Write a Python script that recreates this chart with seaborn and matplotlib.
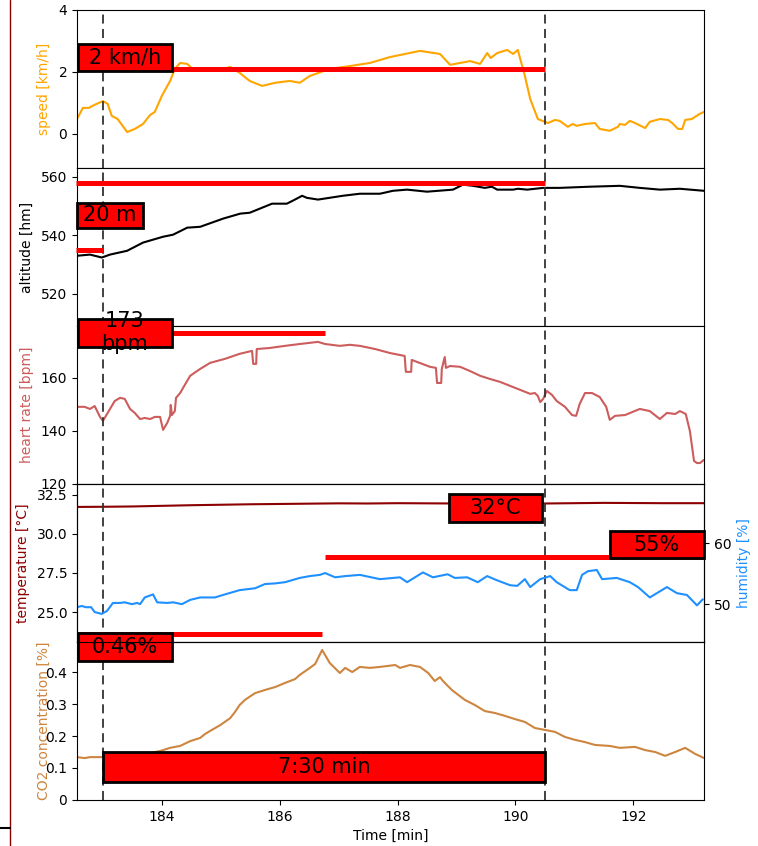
import matplotlib
matplotlib.use("Agg")
import seaborn as sns
import matplotlib.pyplot as plt
from matplotlib.patches import Rectangle
from matplotlib.lines import Line2D

# speed [km/h]
t_speed = [182.56, 182.66, 182.76, 182.86, 183.0, 183.08, 183.15, 183.25, 183.41, 183.54,
           183.68, 183.8, 183.88, 184.0, 184.14, 184.22, 184.31, 184.43, 184.56, 184.73,
           184.9, 185.16, 185.32, 185.49, 185.7, 185.92, 186.17, 186.34, 186.51, 186.85,
           187.19, 187.53, 187.87, 188.38, 188.72, 188.89, 189.23, 189.4, 189.52, 189.58,
           189.69, 189.86, 189.96, 190.04, 190.16, 190.25, 190.38, 190.5, 190.55, 190.67,
           190.75, 190.89, 190.97, 191.04, 191.18, 191.35, 191.43, 191.6, 191.74, 191.77,
           191.86, 191.94, 192.03, 192.2, 192.28, 192.45, 192.59, 192.66, 192.76, 192.83,
           192.88, 192.99, 193.13, 193.2]
speed = [0.48, 0.84, 0.84, 0.94, 1.06, 0.97, 0.58, 0.48, 0.06, 0.16,
         0.32, 0.61, 0.71, 1.23, 1.71, 2.1, 2.29, 2.26, 2.03, 2.1,
         2.03, 2.16, 1.97, 1.71, 1.55, 1.65, 1.71, 1.65, 1.87, 2.1,
         2.19, 2.29, 2.48, 2.68, 2.58, 2.23, 2.35, 2.26, 2.61, 2.45,
         2.61, 2.71, 2.58, 2.71, 1.87, 1.13, 0.48, 0.39, 0.35, 0.45,
         0.42, 0.23, 0.32, 0.26, 0.32, 0.35, 0.16, 0.1, 0.23, 0.32,
         0.29, 0.42, 0.35, 0.19, 0.39, 0.48, 0.45, 0.35, 0.16, 0.16,
         0.45, 0.48, 0.65, 0.71]

# altitude [hm]
t_alt = [182.56, 182.78, 182.98, 183.12, 183.41, 183.68, 184.02, 184.19, 184.43, 184.65,
         185.04, 185.33, 185.49, 185.87, 186.12, 186.22, 186.38, 186.46, 186.65, 187.07,
         187.36, 187.7, 187.92, 188.16, 188.5, 188.94, 189.11, 189.28, 189.48, 189.6,
         189.69, 189.96, 190.04, 190.2, 190.47, 190.75, 191.26, 191.77, 192.11, 192.45,
         192.79, 193.2]
altitude = [533.0, 533.4, 532.4, 533.4, 534.7, 537.5, 539.5, 540.2, 542.6, 542.9,
            545.7, 547.4, 547.7, 550.8, 550.8, 551.8, 553.5, 552.8, 552.2, 553.5,
            554.2, 554.2, 555.2, 555.6, 554.9, 555.6, 557.3, 556.9, 556.2, 556.6,
            555.6, 555.6, 555.9, 555.6, 556.2, 556.2, 556.6, 556.9, 556.2, 555.6,
            555.9, 555.2]

# heart rate [bpm]
t_hr = [182.56, 182.69, 182.78, 182.86, 182.95, 183.0, 183.08, 183.2, 183.29, 183.37,
        183.46, 183.54, 183.63, 183.71, 183.8, 183.88, 183.97, 184.02, 184.09, 184.14,
        184.15, 184.17, 184.22, 184.24, 184.31, 184.39, 184.48, 184.65, 184.82, 185.07,
        185.32, 185.53, 185.55, 185.6, 185.61, 185.83, 186.09, 186.34, 186.65, 186.77,
        187.02, 187.19, 187.36, 187.62, 187.87, 188.12, 188.14, 188.23, 188.24, 188.55,
        188.65, 188.67, 188.74, 188.75, 188.8, 188.82, 188.89, 189.06, 189.23, 189.4,
        189.57, 189.74, 189.91, 190.08, 190.25, 190.33, 190.38, 190.42, 190.47, 190.53,
        190.62, 190.7, 190.84, 190.96, 191.03, 191.09, 191.18, 191.3, 191.43, 191.54,
        191.6, 191.69, 191.86, 192.11, 192.28, 192.45, 192.57, 192.71, 192.79, 192.89,
        192.96, 193.03, 193.08, 193.13, 193.2]
heart_rate = [149.1, 149.1, 148.3, 149.4, 145.3, 143.8, 146.8, 151.3, 152.5, 152.1,
              148.3, 146.8, 144.5, 144.9, 144.5, 145.3, 145.3, 140.4, 143.0, 145.7,
              149.8, 146.0, 147.5, 152.5, 154.3, 157.4, 160.8, 163.4, 165.7, 167.2,
              169.1, 170.2, 165.3, 165.3, 170.9, 171.3, 172.1, 172.8, 173.6, 172.8,
              172.1, 172.5, 172.1, 170.9, 169.4, 168.3, 162.3, 162.3, 166.8, 164.2,
              163.8, 158.1, 158.1, 163.4, 167.9, 163.8, 164.5, 164.2, 162.6, 160.8,
              159.6, 158.5, 157.0, 155.5, 154.0, 154.3, 153.2, 150.9, 152.1, 155.1,
              153.6, 151.3, 149.1, 146.0, 145.7, 150.2, 154.3, 154.3, 152.8, 149.1,
              144.2, 145.7, 146.0, 148.3, 147.5, 144.5, 146.8, 146.4, 147.5, 146.4,
              140.0, 128.7, 127.9, 127.9, 129.1]

# temperature [°C]
t_temp = [182.56, 183.0, 183.5, 184.0, 184.5, 185.0, 185.5, 186.0, 186.5, 187.0, 187.5,
          188.0, 188.5, 189.0, 189.5, 190.0, 190.5, 191.0, 191.5, 192.0, 192.5, 193.2]
temperature = [31.73, 31.74, 31.76, 31.8, 31.84, 31.87, 31.9, 31.92, 31.94, 31.96, 31.95,
               31.97, 31.96, 31.95, 31.97, 31.96, 31.95, 31.97, 31.99, 31.98, 31.97, 31.97]

# humidity [%]
t_hum = [182.56, 182.64, 182.71, 182.8, 182.86, 182.98, 183.07, 183.17, 183.29, 183.37,
         183.49, 183.58, 183.63, 183.71, 183.85, 183.92, 184.09, 184.19, 184.34, 184.48,
         184.65, 184.9, 185.07, 185.32, 185.58, 185.75, 185.92, 186.09, 186.34, 186.51,
         186.68, 186.77, 186.94, 187.11, 187.36, 187.7,
         188.04, 188.16, 188.43, 188.6, 188.85, 188.97, 189.18, 189.36, 189.52, 189.69,
         189.91, 190.03, 190.16, 190.25, 190.42, 190.59, 190.7, 190.92, 191.04, 191.13,
         191.23, 191.38, 191.47, 191.72, 191.94, 192.08, 192.28, 192.57, 192.74, 192.91,
         193.08, 193.18]
humidity = [49.5, 49.7, 49.5, 49.5, 48.7, 48.4, 48.9, 50.2, 50.2, 50.3,
            50.0, 50.2, 50.0, 51.1, 51.6, 50.3, 50.2, 50.3, 50.0, 50.7,
            51.1, 51.1, 51.6, 52.3, 52.6, 53.3, 53.4, 53.6, 54.3, 54.6,
            54.8, 55.1, 54.4, 54.6, 54.8, 54.1,
            54.4, 53.6, 55.2, 54.4, 54.9, 54.3, 54.4, 53.6, 54.6, 53.9,
            53.1, 53.0, 54.1, 52.8, 54.1, 54.6, 53.6, 52.3, 52.3, 54.8,
            55.4, 55.6, 54.1, 54.3, 53.6, 52.8, 51.1, 52.8, 51.8, 51.5,
            49.8, 50.8]

# CO2 concentration [%]
t_co2 = [182.56, 182.69, 182.78, 182.95, 183.29, 183.63, 183.97, 184.14, 184.31, 184.48,
         184.65, 184.73, 184.82, 184.99, 185.16, 185.24, 185.32, 185.41, 185.58, 185.75,
         185.92, 186.09, 186.26, 186.34, 186.48, 186.6, 186.72, 186.85, 187.02, 187.11,
         187.23, 187.36, 187.53, 187.7, 187.96, 188.04, 188.21, 188.38, 188.52, 188.63,
         188.72, 188.77, 188.92, 189.14, 189.31, 189.48, 189.65, 189.82, 189.99, 190.16,
         190.33, 190.5, 190.67, 190.84, 191.01, 191.18, 191.35, 191.6, 191.77, 192.03,
         192.2, 192.37, 192.54, 192.71, 192.88, 193.05, 193.2]
co2 = [0.134, 0.131, 0.134, 0.134, 0.134, 0.141, 0.153, 0.163, 0.169, 0.184,
       0.194, 0.206, 0.216, 0.234, 0.256, 0.275, 0.297, 0.313, 0.334, 0.344,
       0.353, 0.366, 0.378, 0.391, 0.409, 0.425, 0.469, 0.428, 0.397, 0.413,
       0.4, 0.416, 0.413, 0.416, 0.422, 0.413, 0.422, 0.416, 0.397, 0.372,
       0.384, 0.372, 0.344, 0.313, 0.297, 0.278, 0.272, 0.263, 0.253, 0.244,
       0.225, 0.219, 0.213, 0.197, 0.188, 0.181, 0.172, 0.169, 0.163, 0.166,
       0.156, 0.15, 0.138, 0.15, 0.163, 0.144, 0.131]

t_start, t_end = 183.0, 190.5

sns.set_style("ticks", {"axes.edgecolor": "black", "xtick.color": "black",
                        "ytick.color": "black", "text.color": "black",
                        "axes.labelcolor": "black"})

fig, axs = plt.subplots(5, 1, sharex=True, figsize=(7.58, 8.46), dpi=100)
fig.subplots_adjust(left=0.1016, right=0.9288, top=0.9882, bottom=0.0544, hspace=0)
ax1, ax2, ax3, ax4, ax5 = axs


def box(ax, x0, x1, y0, y1, txt):
    ax.add_patch(Rectangle((x0, y0), x1 - x0, y1 - y0, facecolor="red",
                           edgecolor="black", lw=2, clip_on=False, zorder=6))
    ax.text((x0 + x1) / 2, (y0 + y1) / 2, txt, ha="center", va="center",
            fontsize=15, zorder=7, clip_on=False)


def redline(ax, x0, x1, y):
    ax.plot([x0, x1], [y, y], color="red", lw=3.6, solid_capstyle="butt",
            clip_on=False, zorder=5)


# speed
sns.lineplot(x=t_speed, y=speed, ax=ax1, color="orange", lw=1.5, estimator=None, sort=False)
ax1.set_ylim(-1.1, 4)
ax1.set_yticks([0, 2, 4])
ax1.set_ylabel("speed [km/h]", color="orange")
ax1.yaxis.set_label_coords(-0.041, 0.5)
redline(ax1, 182.56, t_end, 2.08)
box(ax1, 182.57, 184.17, 2.03, 2.9, "2 km/h")

# altitude
sns.lineplot(x=t_alt, y=altitude, ax=ax2, color="black", lw=1.5, estimator=None, sort=False)
ax2.set_ylim(509, 563)
ax2.set_yticks([520, 540, 560])
ax2.set_ylabel("altitude [hm]")
ax2.yaxis.set_label_coords(-0.069, 0.5)
redline(ax2, 182.54, t_end, 558)
redline(ax2, 182.54, t_start, 535.1)
box(ax2, 182.56, 183.68, 542.6, 551.1, "20 m")

# heart rate
sns.lineplot(x=t_hr, y=heart_rate, ax=ax3, color="indianred", lw=1.5, estimator=None, sort=False)
ax3.set_ylim(120, 179.6)
ax3.set_yticks([120, 140, 160])
ax3.set_ylabel("heart rate [bpm]", color="indianred")
ax3.yaxis.set_label_coords(-0.069, 0.5)
redline(ax3, 182.57, 186.77, 177.0)
box(ax3, 182.57, 184.17, 171.7, 182.3, "173\nbpm")

# temperature + humidity
sns.lineplot(x=t_temp, y=temperature, ax=ax4, color="darkred", lw=1.5, estimator=None, sort=False)
ax4.set_ylim(23.08, 33.2)
ax4.set_yticks([25.0, 27.5, 30.0, 32.5])
ax4.set_ylabel("temperature [°C]", color="darkred")
ax4.yaxis.set_label_coords(-0.075, 0.5)

ax4b = ax4.twinx()
sns.lineplot(x=t_hum, y=humidity, ax=ax4b, color="dodgerblue", lw=1.5, estimator=None, sort=False)
ax4b.set_ylim(43.8, 69.7)
ax4b.set_yticks([50, 60])
ax4b.set_ylabel("humidity [%]", color="dodgerblue")
ax4b.yaxis.set_label_coords(1.053, 0.5)
redline(ax4b, 186.77, 193.2, 57.7)
box(ax4, 188.87, 190.45, 30.77, 32.56, "32°C")
box(ax4b, 191.6, 193.2, 57.5, 62.0, "55%")

# CO2
sns.lineplot(x=t_co2, y=co2, ax=ax5, color="peru", lw=1.5, estimator=None, sort=False)
ax5.set_ylim(0, 0.494)
ax5.set_yticks([0, 0.1, 0.2, 0.3, 0.4])
ax5.set_yticklabels(["0", "0.1", "0.2", "0.3", "0.4"])
ax5.set_ylabel("CO2 concentration [%]", color="peru")
ax5.yaxis.set_label_coords(-0.041, 0.5)
redline(ax5, 182.57, 186.72, 0.519)
box(ax5, 182.57, 184.17, 0.434, 0.522, "0.46%")
box(ax5, t_start, t_end, 0.056, 0.15, "7:30 min")

ax5.set_xlim(182.56, 193.2)
ax5.set_xticks([184, 186, 188, 190, 192])
ax5.set_xlabel("Time [min]")

for ax in axs:
    ax.axvline(t_start, color="0.2", ls=(0, (5, 3)), lw=1.3, zorder=3)
    ax.axvline(t_end, color="0.2", ls=(0, (5, 3)), lw=1.3, zorder=3)

fig.add_artist(Line2D([0.013, 0.013], [0, 1], color="#8b0000", lw=1, transform=fig.transFigure))
fig.add_artist(Line2D([0, 0.013], [0.021, 0.021], color="black", lw=1.5, transform=fig.transFigure))

fig.savefig("out.png", dpi=100)
